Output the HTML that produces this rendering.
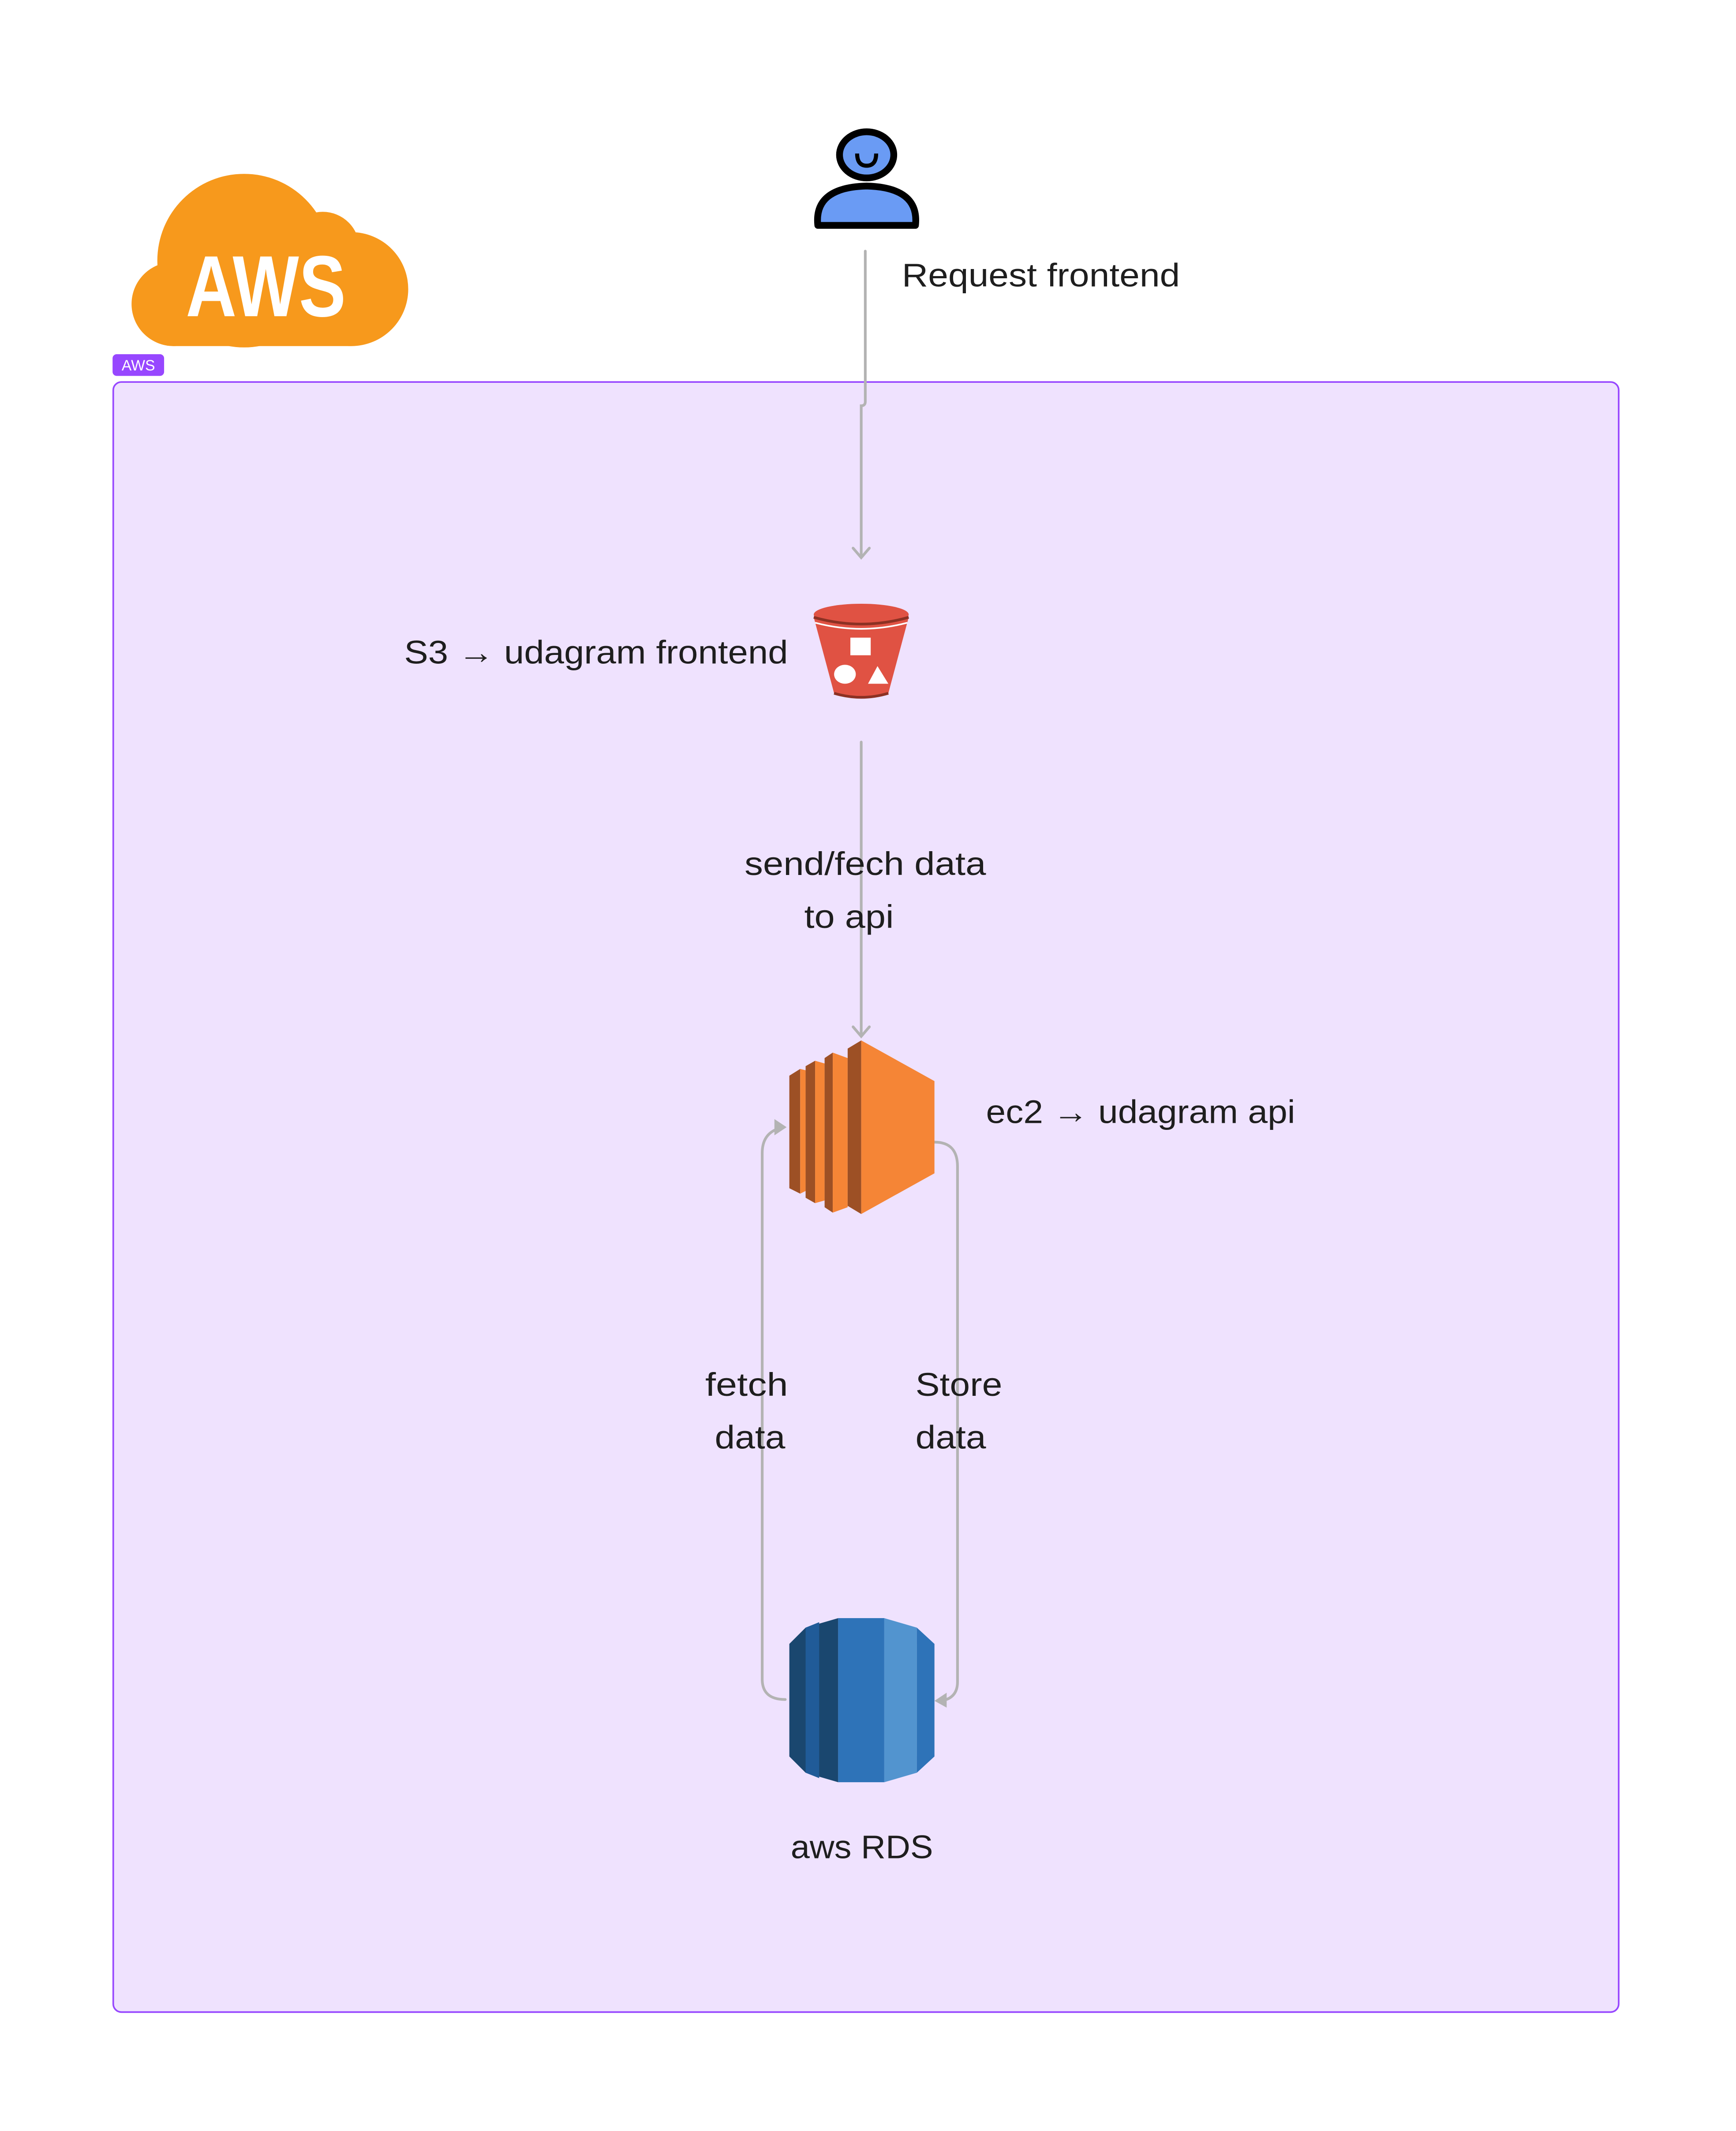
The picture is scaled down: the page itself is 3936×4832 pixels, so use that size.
<!DOCTYPE html>
<html><head><meta charset="utf-8"><style>
html,body{margin:0;padding:0;background:#fff}
svg{display:block}
text{font-family:"Liberation Sans",sans-serif;fill:#1e1e1e}
</style></head><body>
<svg width="3936" height="4832" viewBox="0 0 1280 1571" xmlns="http://www.w3.org/2000/svg">
<rect width="1280" height="1571" fill="#fff"/>
<!-- AWS cloud -->
<g fill="#F7991C">
<circle cx="180" cy="192" r="64"/>
<circle cx="238" cy="183" r="27"/>
<circle cx="259" cy="213" r="42"/>
<rect x="98" y="195" width="190" height="60" rx="30"/>
<circle cx="128" cy="224" r="31"/>
</g>
<text x="196" y="233" text-anchor="middle" font-size="64" font-weight="bold" style="fill:#fff" textLength="118" lengthAdjust="spacingAndGlyphs">AWS</text>
<!-- badge -->
<rect x="83" y="261" width="38" height="16" rx="3" fill="#9747FF"/>
<text x="102" y="273" text-anchor="middle" font-size="11" style="fill:#fff">AWS</text>
<!-- container -->
<rect x="83.5" y="281.5" width="1110" height="1202" rx="6" fill="#EFE2FE" stroke="#9747FF" stroke-width="1.2"/>
<!-- person -->
<g stroke="#000" stroke-width="5" fill="#6A9BF4">
<path d="M603,166 Q600,138 639,137 Q678,138 675,166 Z" stroke-linejoin="round"/>
<ellipse cx="639" cy="114" rx="20" ry="17"/>
</g>
<path d="M632,113 Q632,122 639,122 Q646,122 646,113" fill="none" stroke="#000" stroke-width="3"/>
<!-- connectors -->
<g stroke="#B3B3B3" stroke-width="2" fill="none" stroke-linecap="round">
<path d="M638,185 V296 Q638,299 635,299 V410"/>
<path d="M629,404 L635,411 L641,404"/>
<path d="M635,547 V764"/>
<path d="M629,757 L635,764 L641,757"/>
<path d="M579,1253 Q562,1253 562,1238 V850 Q562,836 574,832"/>
<path d="M689,842 Q706,842 706,860 V1240 Q706,1252 694,1254"/>
</g>
<path d="M571,825 L580,831 L571,837 Z" fill="#B3B3B3"/>
<path d="M689,1254 L698,1248 L698,1259 Z" fill="#B3B3B3"/>
<text x="665" y="211" font-size="24" textLength="205" lengthAdjust="spacingAndGlyphs">Request frontend</text>
<!-- S3 -->
<path d="M600,455 L615,511 Q635,517 655,511 L670,455 Z" fill="#E05243"/>
<path d="M615,511 Q635,517 655,511" fill="none" stroke="#8C3123" stroke-width="2"/>
<ellipse cx="635" cy="453" rx="35" ry="8" fill="#E05243"/>
<path d="M600,455 Q635,465 670,455" fill="none" stroke="#8C3123" stroke-width="2"/>
<path d="M601,459 Q635,468 669,459" fill="none" stroke="#fff" stroke-width="1.2"/>
<rect x="627" y="470" width="15" height="13" fill="#fff"/>
<ellipse cx="623" cy="497" rx="8" ry="7" fill="#fff"/>
<path d="M640,504 L647,491 L655,504 Z" fill="#fff"/>
<text x="298" y="489" font-size="24" textLength="283" lengthAdjust="spacingAndGlyphs">S3 → udagram frontend</text>
<text x="549" y="645" font-size="24" textLength="178" lengthAdjust="spacingAndGlyphs">send/fech data</text>
<text x="593" y="684" font-size="24" textLength="66" lengthAdjust="spacingAndGlyphs">to api</text>
<!-- EC2 -->
<path d="M582,793 L590,788 L590,880 L582,876 Z" fill="#9D5025"/>
<path d="M590,788 L594,789 L594,878 L590,880 Z" fill="#F58536"/>
<path d="M594,786 L601,782 L601,887 L594,883 Z" fill="#9D5025"/>
<path d="M601,782 L608,784 L608,885 L601,887 Z" fill="#F58536"/>
<path d="M608,780 L614,776 L614,894 L608,890 Z" fill="#9D5025"/>
<path d="M614,776 L625,780 L625,890 L614,894 Z" fill="#F58536"/>
<path d="M625,773 L635,767 L635,895 L625,889 Z" fill="#9D5025"/>
<path d="M635,767 L689,797 L689,865 L635,895 Z" fill="#F58536"/>
<text x="727" y="828" font-size="24" textLength="228" lengthAdjust="spacingAndGlyphs">ec2 → udagram api</text>
<text x="520" y="1029" font-size="24" textLength="61" lengthAdjust="spacingAndGlyphs">fetch</text>
<text x="527" y="1068" font-size="24" textLength="52" lengthAdjust="spacingAndGlyphs">data</text>
<text x="675" y="1029" font-size="24" textLength="64" lengthAdjust="spacingAndGlyphs">Store</text>
<text x="675" y="1068" font-size="24" textLength="52" lengthAdjust="spacingAndGlyphs">data</text>
<!-- RDS -->
<path d="M594,1200 L618,1193 L618,1314 L594,1307 L582,1295 L582,1212 Z" fill="#1A476F"/>
<path d="M594,1200 L604,1196 L604,1311 L594,1307 Z" fill="#205B98"/>
<rect x="618" y="1193" width="34" height="121" fill="#2E73B8"/>
<path d="M652,1193 L676,1200 L676,1307 L652,1314 Z" fill="#5294CF"/>
<path d="M676,1200 L689,1212 L689,1295 L676,1307 Z" fill="#2E73B8"/>
<text x="583" y="1370" font-size="24" textLength="105" lengthAdjust="spacingAndGlyphs">aws RDS</text>
</svg>
</body></html>
